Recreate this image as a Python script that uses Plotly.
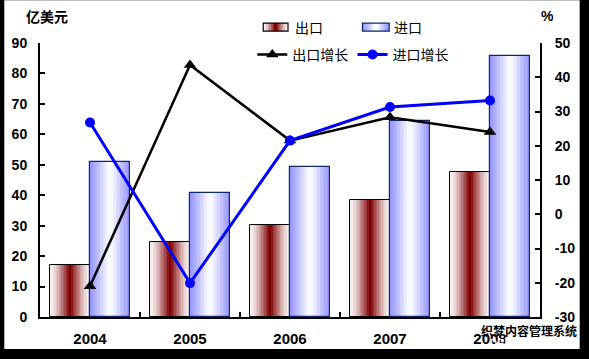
import plotly.graph_objects as go

# ---- data ----
years = ["2004", "2005", "2006", "2007", "2008"]
export_vals = [17.2, 24.8, 30.1, 38.5, 47.6]
import_vals = [51.0, 40.7, 49.3, 64.5, 85.8]
export_growth = [-21.0, 43.6, 21.5, 28.3, 24.0]
import_growth = [26.8, -20.1, 21.5, 31.3, 33.2]
names = ["出口", "进口", "出口增长", "进口增长"]
left_ticks = list(range(0, 91, 10))
right_ticks = list(range(-30, 51, 10))
right_labels = [str(v) for v in right_ticks]

W, H = 589, 359
L, R, T, B = 36, 49, 43, 41
PW, PH = W - L - R, H - T - B

def px(x):
    return (x - L) / PW

def py(y):
    return (H - B - y) / PH

def lerp(c1, c2, t):
    return "rgb(%d,%d,%d)" % tuple(round(a + (b - a) * t) for a, b in zip(c1, c2))

fig = go.Figure()

N = 14
BW = 0.4
exp_edge, exp_center = (248, 242, 242), (128, 0, 0)
imp_edge, imp_center = (150, 150, 255), (255, 255, 255)

for vals, center, ce, cc, tprof in [
    (export_vals, -BW / 2, exp_edge, exp_center, 1.4),
    (import_vals, BW / 2, imp_edge, imp_center, 1.0),
]:
    for k in range(N):
        w = BW * (1 - k / N)
        t = (k / (N - 1)) ** tprof
        fig.add_trace(go.Bar(
            x=years, y=vals, width=w, offset=center - w / 2,
            marker=dict(color=lerp(ce, cc, t), line=dict(width=0)),
            showlegend=False, hoverinfo="skip",
        ))

# outlines
fig.add_trace(go.Bar(x=years, y=export_vals, width=BW, offset=-BW,
                     marker=dict(color="rgba(0,0,0,0)", line=dict(color="black", width=1)),
                     showlegend=False, name=names[0]))
fig.add_trace(go.Bar(x=years, y=import_vals, width=BW, offset=0,
                     marker=dict(color="rgba(0,0,0,0)", line=dict(color="#0b2a66", width=1.2)),
                     showlegend=False, name=names[1]))

fig.add_trace(go.Scatter(x=years, y=export_growth, yaxis="y2", mode="lines+markers",
                         name=names[2], line=dict(color="black", width=2.5),
                         marker=dict(symbol="triangle-up", size=11, color="black"),
                         legend="legend"))
fig.add_trace(go.Scatter(x=years, y=import_growth, yaxis="y2", mode="lines+markers",
                         name=names[3], line=dict(color="#0000ff", width=3),
                         marker=dict(symbol="circle", size=10, color="#0000ff"),
                         legend="legend2"))

shapes = []
# white page over black frame
shapes.append(dict(type="rect", xref="paper", yref="paper", x0=px(0), x1=px(580),
                   y0=py(350), y1=py(0), fillcolor="white", line=dict(width=0), layer="below"))

# custom legend swatches for bars
def swatch(x0, x1, y0, y1, ce, cc, tprof, outline):
    n = 8
    cx = (x0 + x1) / 2
    hw = (x1 - x0) / 2
    for k in range(n):
        w = hw * (1 - k / n)
        t = (k / (n - 1)) ** tprof
        shapes.append(dict(type="rect", xref="paper", yref="paper",
                           x0=px(cx - w), x1=px(cx + w), y0=py(y1), y1=py(y0),
                           fillcolor=lerp(ce, cc, t), line=dict(width=0), layer="above"))
    shapes.append(dict(type="rect", xref="paper", yref="paper",
                       x0=px(x0), x1=px(x1), y0=py(y1), y1=py(y0),
                       fillcolor="rgba(0,0,0,0)", line=dict(color=outline, width=1.2), layer="above"))

swatch(261, 286, 23, 31, exp_edge, exp_center, 1.4, "black")
swatch(361, 388, 23, 31, imp_edge, imp_center, 1.0, "#0b2a66")

cjk = "Noto Sans CJK SC"
bold = dict(family="Liberation Sans, Arial, sans-serif", size=14, color="black", weight="bold")
boldx = dict(family="Liberation Sans, Arial, sans-serif", size=15, color="black", weight="bold")
annotations = [
    dict(text=names[0], x=px(291), y=py(27), xref="paper", yref="paper", xanchor="left",
         yanchor="middle", showarrow=False, font=dict(family=cjk, size=14, color="black")),
    dict(text=names[1], x=px(391), y=py(27), xref="paper", yref="paper", xanchor="left",
         yanchor="middle", showarrow=False, font=dict(family=cjk, size=14, color="black")),
    dict(text="<b>亿美元</b>", x=px(20), y=py(16), xref="paper", yref="paper", xanchor="left",
         yanchor="middle", showarrow=False, font=dict(family=cjk, size=14, color="black")),
    dict(text="<b>%</b>", x=px(548), y=py(16), xref="paper", yref="paper", xanchor="center",
         yanchor="middle", showarrow=False, font=dict(family="Liberation Sans", size=14, color="black")),
    dict(text="<b>织梦内容管理系统</b>", x=px(529), y=py(332), xref="paper", yref="paper", xanchor="center",
         yanchor="middle", showarrow=False, font=dict(family=cjk, size=12, color="black")),
    dict(text="DEDECMS.COM", x=px(529), y=py(345), xref="paper", yref="paper", xanchor="center",
         yanchor="middle", showarrow=False,
         font=dict(family="DejaVu Sans Mono", size=12, color="white")),
]

leg_common = dict(orientation="h", bgcolor="rgba(0,0,0,0)", borderwidth=0,
                  font=dict(family=cjk, size=14, color="black"),
                  xanchor="left", yanchor="middle", itemwidth=30)

axis_common = dict(showline=True, linecolor="black", linewidth=2, ticks="inside", ticklen=5,
                   tickwidth=2, tickcolor="black", showgrid=False, zeroline=False)

fig.update_layout(
    width=W, height=H,
    margin=dict(l=L, r=R, t=T, b=B, pad=0),
    paper_bgcolor="black", plot_bgcolor="white",
    barmode="overlay", bargap=0,
    shapes=shapes, annotations=annotations,
    legend=dict(x=px(250), y=py(55), **leg_common),
    legend2=dict(x=px(351), y=py(55), **leg_common),
    xaxis=dict(type="category", range=[-0.5, 4.5], tickson="boundaries",
               ticklabelstandoff=7, tickfont=boldx, **axis_common),
    yaxis=dict(range=[0, 90], tickvals=left_ticks, ticklabelstandoff=8, tickfont=bold,
               **axis_common),
    yaxis2=dict(range=[-30, 50], tickvals=right_ticks, ticktext=right_labels, overlaying="y",
                side="right", ticklabelstandoff=10, tickfont=bold, **axis_common),
)

fig.write_html("out.html")
